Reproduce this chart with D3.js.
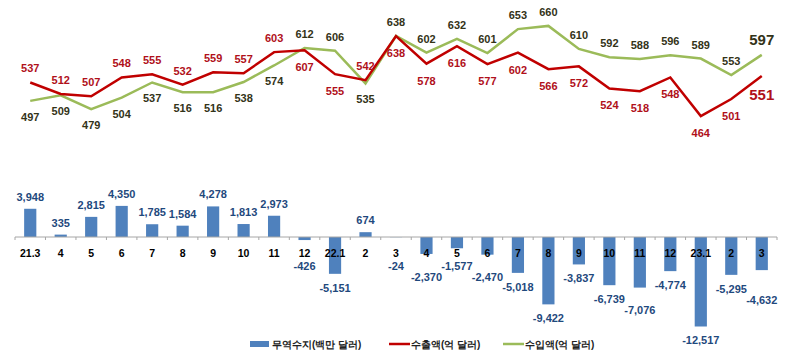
<!DOCTYPE html>
<html>
<head>
<meta charset="utf-8">
<script src="https://cdn.jsdelivr.net/npm/d3@7"></script>
<style>
  body { margin: 0; background: #fff; }
  svg { display: block; }
  text { font-family: "Liberation Sans", Arial, sans-serif; font-weight: bold; }
</style>
</head>
<body>
<div id="chart"></div>
<script>
// Data
const months = ["21.3", "4", "5", "6", "7", "8", "9", "10", "11", "12", "22.1", "2", "3",
    "4", "5", "6", "7", "8", "9", "10", "11", "12", "23.1", "2", "3"];
const balance = [3948, 335, 2815, 4350, 1785, 1584, 4278, 1813, 2973, -426, -5151, 674, -24,
    -2370, -1577, -2470, -5018, -9422, -3837, -6739, -7076, -4774, -12517, -5295, -4632];
const exports = [537, 512, 507, 548, 555, 532, 559, 557, 603, 607, 555, 542, 638,
    578, 616, 577, 602, 566, 572, 524, 518, 548, 464, 501, 551];
const imports = [497, 509, 479, 504, 537, 516, 516, 538, 574, 612, 606, 535, 638,
    602, 632, 601, 653, 660, 610, 592, 588, 596, 589, 553, 597];
const legendLabels = ["무역수지(백만 달러)", "수출액(억 달러)", "수입액(억 달러)"];

const width = 800, height = 354;
const fmt = d3.formatLocale({
    decimal: ".", thousands: ",", grouping: [3], currency: ["", ""], minus: "-"
}).format(",");

const svg = d3.select("#chart").append("svg")
    .attr("width", width)
    .attr("height", height);

const idx = months.map((d, i) => i);

const x = d3.scaleBand()
    .domain(idx)
    .range([15, 777]);
const cx = i => x(i) + x.bandwidth() / 2;

// line panel scale
const yL = d3.scaleLinear().domain([400, 700]).range([145.5, 7.5]);
// bar panel scale
const yB = d3.scaleLinear().domain([-14000, 6000]).range([337.1, 194.1]);

// Bars
const barW = x.bandwidth() * 0.4;
svg.append("g").selectAll("rect")
    .data(balance)
    .join("rect")
    .attr("x", (d, i) => cx(i) - barW / 2)
    .attr("y", d => yB(Math.max(0, d)))
    .attr("width", barW)
    .attr("height", d => Math.abs(yB(d) - yB(0)))
    .attr("fill", "#4f81bd");

// Axis with boundary ticks
const axisY = yB(0);
const axis = svg.append("g");
axis.append("line")
    .attr("x1", 15).attr("x2", 777)
    .attr("y1", axisY).attr("y2", axisY)
    .attr("stroke", "#a6a6a6");
axis.selectAll("line.tick")
    .data(idx.concat([months.length]))
    .join("line")
    .attr("class", "tick")
    .attr("x1", i => 15 + i * x.bandwidth())
    .attr("x2", i => 15 + i * x.bandwidth())
    .attr("y1", axisY).attr("y2", axisY + 3)
    .attr("stroke", "#a6a6a6");

// Category labels
svg.append("g").selectAll("text")
    .data(months)
    .join("text")
    .attr("x", (d, i) => cx(i))
    .attr("y", axisY + 20)
    .attr("text-anchor", "middle")
    .attr("font-size", "10.5px")
    .attr("fill", "#000")
    .text(d => d);

// Bar value labels (negatives pushed below the category labels, nudged if neighbours collide)
const labelY = [];
balance.forEach((d, i) => {
    let ly;
    if (d >= 0) {
        ly = yB(d) - 8;
    } else {
        ly = Math.max(yB(d) + 18, axisY + 33);
        const prev = labelY[i - 1];
        if (i > 0 && balance[i - 1] < 0 && Math.abs(ly - prev) < 7) ly = prev + 11;
    }
    labelY.push(ly);
});

svg.append("g").selectAll("text")
    .data(balance)
    .join("text")
    .attr("x", (d, i) => cx(i))
    .attr("y", (d, i) => labelY[i])
    .attr("text-anchor", "middle")
    .attr("font-size", "11px")
    .attr("fill", "#1f497d")
    .text(d => fmt(d));

// Lines
const line = d3.line()
    .x((d, i) => cx(i))
    .y(d => yL(d));

svg.append("path")
    .datum(imports)
    .attr("fill", "none")
    .attr("stroke", "#9bbb59")
    .attr("stroke-width", 2.5)
    .attr("d", line);

svg.append("path")
    .datum(exports)
    .attr("fill", "none")
    .attr("stroke", "#c00000")
    .attr("stroke-width", 2.5)
    .attr("d", line);

// Line value labels
const last = months.length - 1;
svg.append("g").selectAll("text")
    .data(exports)
    .join("text")
    .attr("x", (d, i) => cx(i))
    .attr("y", (d, i) => d > imports[i] ? yL(d) - 10 : yL(d) + (i === last ? 24 : 21))
    .attr("text-anchor", "middle")
    .attr("font-size", (d, i) => i === last ? "15px" : "11px")
    .attr("fill", "#b0101a")
    .text(d => d);

svg.append("g").selectAll("text")
    .data(imports)
    .join("text")
    .attr("x", (d, i) => cx(i))
    .attr("y", (d, i) => exports[i] > d ? yL(d) + 20 : yL(d) - 10)
    .attr("text-anchor", "middle")
    .attr("font-size", (d, i) => i === last ? "15px" : "11px")
    .attr("fill", "#333318")
    .text(d => d);

// Legend
const legend = svg.append("g")
    .attr("transform", `translate(0, 345)`);
legend.append("rect")
    .attr("x", 250).attr("y", -4)
    .attr("width", 19).attr("height", 6)
    .attr("fill", "#4f81bd");
legend.append("line")
    .attr("x1", 389).attr("x2", 410)
    .attr("y1", -1).attr("y2", -1)
    .attr("stroke", "#c00000").attr("stroke-width", 2.5);
legend.append("line")
    .attr("x1", 503).attr("x2", 524)
    .attr("y1", -1).attr("y2", -1)
    .attr("stroke", "#9bbb59").attr("stroke-width", 2.5);
legend.selectAll("text.lg")
    .data(legendLabels)
    .join("text")
    .attr("class", "lg")
    .attr("x", (d, i) => [272, 411, 525][i])
    .attr("y", 3)
    .attr("font-size", "10px")
    .attr("font-family", "'Noto Sans CJK KR', sans-serif")
    .attr("fill", "#222")
    .text(d => d);
</script>
</body>
</html>
